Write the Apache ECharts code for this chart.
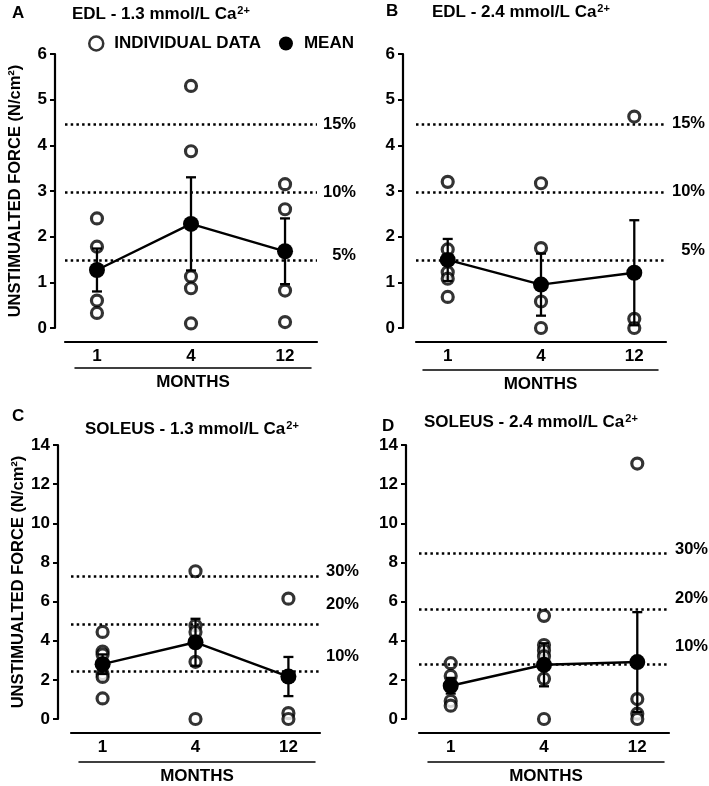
<!DOCTYPE html>
<html>
<head>
<meta charset="utf-8">
<script src="https://cdn.jsdelivr.net/npm/echarts@6/dist/echarts.min.js"></script>
<style>
html,body{margin:0;padding:0;background:#fff;}
#chart{width:709px;height:786px;}
</style>
</head>
<body>
<div id="chart"></div>
<script>
// ---------------- DATA ----------------
const months = ['1', '4', '12'];

// Panel A: EDL - 1.3 mmol/L Ca2+
const edl13Individual = [[2.4, 1.78, 0.6, 0.33], [5.3, 3.87, 1.13, 0.87, 0.1], [3.15, 2.6, 0.82, 0.13]];
const edl13Mean = [1.27, 2.28, 1.68];
const edl13Err = [0.47, 1.02, 0.72];
const edl13Ref = [4.46, 2.97, 1.49];
const edl13RefLabels = ['15%', '10%', '5%'];

// Panel B: EDL - 2.4 mmol/L Ca2+
const edl24Individual = [[3.2, 1.72, 1.22, 1.08, 0.68], [3.17, 1.75, 0.58, 0.0], [4.63, 0.2, 0.0]];
const edl24Mean = [1.49, 0.95, 1.21];
const edl24Err = [0.46, 0.68, 1.15];
const edl24Ref = [4.47, 2.98, 1.49];
const edl24RefLabels = ['15%', '10%', '5%'];

// Panel C: SOLEUS - 1.3 mmol/L Ca2+
const sol13Individual = [[4.45, 3.45, 3.3, 2.3, 2.15, 1.05], [7.55, 4.78, 4.45, 2.92, 0.0], [6.15, 0.3, 0.0]];
const sol13Mean = [2.8, 3.92, 2.17];
const sol13Err = [0.5, 1.2, 1.0];
const sol13Ref = [7.28, 4.85, 2.43];
const sol13RefLabels = ['30%', '20%', '10%'];

// Panel D: SOLEUS - 2.4 mmol/L Ca2+
const sol24Individual = [[2.85, 2.2, 0.92, 0.68], [5.27, 3.78, 3.5, 3.2, 2.06, 0.0], [13.05, 1.02, 0.27, 0.0]];
const sol24Mean = [1.7, 2.77, 2.91];
const sol24Err = [0.4, 1.1, 2.55];
const sol24Ref = [8.45, 5.63, 2.82];
const sol24RefLabels = ['30%', '20%', '10%'];

const yTitle = 'UNSTIMUALTED FORCE (N/cm²)';
const xTitle = 'MONTHS';

// ---------------- LAYOUT / STYLE ----------------
const FONT = '"Liberation Sans", Arial, Helvetica, sans-serif';
const txt = {fontFamily: FONT, fontWeight: 'bold', color: '#000', fontSize: 16};

const panels = [
  {letter: 'A', title: 'EDL - 1.3 mmol/L Ca', letterPos: [12, 5], titlePos: [72, 5],
   grid: {left: 65, top: 54, width: 252, height: 274}, yOffset: 10, xOffset: 14,
   deco: {left: 75, width: 236}, decoOffset: 40, ymax: 6, yint: 1, yName: true,
   indiv: edl13Individual, mean: edl13Mean, err: edl13Err, ref: edl13Ref, refLabels: edl13RefLabels,
   labelDy: [0, 0, -5]},
  {letter: 'B', title: 'EDL - 2.4 mmol/L Ca', letterPos: [386, 3], titlePos: [432, 3],
   grid: {left: 416, top: 54, width: 250, height: 274}, yOffset: 13, xOffset: 14,
   deco: {left: 423, width: 235}, decoOffset: 42, ymax: 6, yint: 1, yName: false,
   indiv: edl24Individual, mean: edl24Mean, err: edl24Err, ref: edl24Ref, refLabels: edl24RefLabels,
   labelDy: [0, 0, -10]},
  {letter: 'C', title: 'SOLEUS - 1.3 mmol/L Ca', letterPos: [12, 408], titlePos: [85, 420],
   grid: {left: 71, top: 445, width: 249, height: 274}, yOffset: 13, xOffset: 14,
   deco: {left: 79, width: 236}, decoOffset: 43, ymax: 14, yint: 2, yName: true,
   indiv: sol13Individual, mean: sol13Mean, err: sol13Err, ref: sol13Ref, refLabels: sol13RefLabels,
   labelDy: [-5, -20, -15]},
  {letter: 'D', title: 'SOLEUS - 2.4 mmol/L Ca', letterPos: [382, 418], titlePos: [424, 413],
   grid: {left: 419, top: 445, width: 250, height: 274}, yOffset: 13, xOffset: 14,
   deco: {left: 428, width: 236}, decoOffset: 45, ymax: 14, yint: 2, yName: false,
   indiv: sol24Individual, mean: sol24Mean, err: sol24Err, ref: sol24Ref, refLabels: sol24RefLabels,
   labelDy: [-4, -10, -17]}
];

const grids = [], xAxes = [], yAxes = [], series = [], titles = [];

function errRender(params, api) {
  const x = api.value(0), m = api.value(1), e = api.value(2);
  const top = api.coord([x, m + e]);
  const bot = api.coord([x, m - e]);
  const st = {stroke: '#000', lineWidth: 2.3};
  return {type: 'group', children: [
    {type: 'line', shape: {x1: top[0], y1: top[1], x2: bot[0], y2: bot[1]}, style: st},
    {type: 'line', shape: {x1: top[0] - 5, y1: top[1], x2: top[0] + 5, y2: top[1]}, style: st},
    {type: 'line', shape: {x1: bot[0] - 5, y1: bot[1], x2: bot[0] + 5, y2: bot[1]}, style: st}
  ]};
}

panels.forEach((p, i) => {
  titles.push({text: p.letter, left: p.letterPos[0], top: p.letterPos[1], padding: 0,
    textStyle: Object.assign({}, txt, {fontSize: 17})});
  titles.push({text: p.title + '{sup|2+}', left: p.titlePos[0], top: p.titlePos[1], padding: 0,
    textStyle: Object.assign({}, txt, {fontSize: 17,
      rich: {sup: {fontFamily: FONT, fontWeight: 'bold', fontSize: 11, color: '#000', padding: [0, 0, 8, 1]}}})});

  grids.push(Object.assign({}, p.grid));
  xAxes.push({gridIndex: i, type: 'value', min: -0.34, max: 2.34, offset: p.xOffset,
    axisLine: {show: true, onZero: false, lineStyle: {color: '#000', width: 2.2}},
    axisTick: {show: false}, splitLine: {show: false},
    axisLabel: Object.assign({}, txt, {fontSize: 17, customValues: [0, 1, 2], formatter: v => months[Math.round(v)], margin: 6})});
  yAxes.push({gridIndex: i, type: 'value', min: 0, max: p.ymax, interval: p.yint, offset: p.yOffset,
    axisLine: {show: true, onZero: false, lineStyle: {color: '#000', width: 2.2}},
    axisTick: {show: true, length: 5, lineStyle: {color: '#000', width: 2}},
    splitLine: {show: false},
    axisLabel: Object.assign({}, txt, {fontSize: 17, margin: 8}),
    name: p.yName ? yTitle : '', nameLocation: 'middle', nameGap: 31,
    nameTextStyle: Object.assign({}, txt, {fontSize: 16.5})});

  const pts = [];
  p.indiv.forEach((arr, k) => arr.forEach(v => pts.push([k, v])));

  series.push({type: 'line', xAxisIndex: i, yAxisIndex: i, data: [], silent: true, z: 1,
    markLine: {silent: true, symbol: 'none', animation: false,
      lineStyle: {type: [2.5, 3.2], width: 2.6, color: '#000'},
      label: {show: true, position: 'end', formatter: '{r|{b}}', distance: 5,
        rich: {r: {fontFamily: FONT, fontWeight: 'bold', fontSize: 16.5, color: '#000', width: 34, align: 'right'}}},
      data: p.ref.map((v, k) => ({yAxis: v, name: p.refLabels[k], label: {offset: [0, p.labelDy[k]]}}))}});
  series.push({type: 'scatter', name: 'INDIVIDUAL DATA', xAxisIndex: i, yAxisIndex: i, data: pts,
    symbol: 'circle', symbolSize: 11, z: 2,
    itemStyle: {color: '#fff', borderColor: '#000', borderWidth: 3.2}});
  series.push({type: 'custom', xAxisIndex: i, yAxisIndex: i, z: 3,
    data: p.mean.map((m, k) => [k, m, p.err[k]]), encode: {x: 0, y: 1}, renderItem: errRender});
  series.push({type: 'line', name: 'MEAN', xAxisIndex: i, yAxisIndex: i, z: 4,
    data: p.mean.map((m, k) => [k, m]), symbol: 'circle', symbolSize: 16, showSymbol: true,
    lineStyle: {color: '#000', width: 2.4}, itemStyle: {color: '#000'}});
});

// decorative "MONTHS" axes
panels.forEach((p, i) => {
  const gi = 4 + i;
  grids.push({left: p.deco.left, width: p.deco.width, top: p.grid.top, height: p.grid.height});
  xAxes.push({gridIndex: gi, type: 'value', min: 0, max: 1, offset: p.decoOffset,
    axisLine: {show: true, onZero: false, lineStyle: {color: '#000', width: 1.5}},
    axisTick: {show: false}, axisLabel: {show: false}, splitLine: {show: false},
    name: xTitle, nameLocation: 'middle', nameGap: 6, nameTextStyle: Object.assign({}, txt, {fontSize: 17})});
  yAxes.push({gridIndex: gi, type: 'value', min: 0, max: 1, show: false});
});

const chart = echarts.init(document.getElementById('chart'), null, {renderer: 'canvas'});
chart.setOption({
  backgroundColor: '#fff',
  animation: false,
  title: titles,
  legend: {left: 88, top: 35, padding: 0, itemWidth: 14, itemHeight: 14, itemGap: 18,
    textStyle: Object.assign({}, txt, {fontSize: 17, padding: [0, 0, 0, 6]}),
    data: [
      {name: 'INDIVIDUAL DATA', icon: 'circle', itemStyle: {color: '#fff', borderColor: '#000', borderWidth: 2.5}},
      {name: 'MEAN', icon: 'circle', itemStyle: {color: '#000'}}
    ]},
  grid: grids,
  xAxis: xAxes,
  yAxis: yAxes,
  series: series
});
</script>
</body>
</html>
